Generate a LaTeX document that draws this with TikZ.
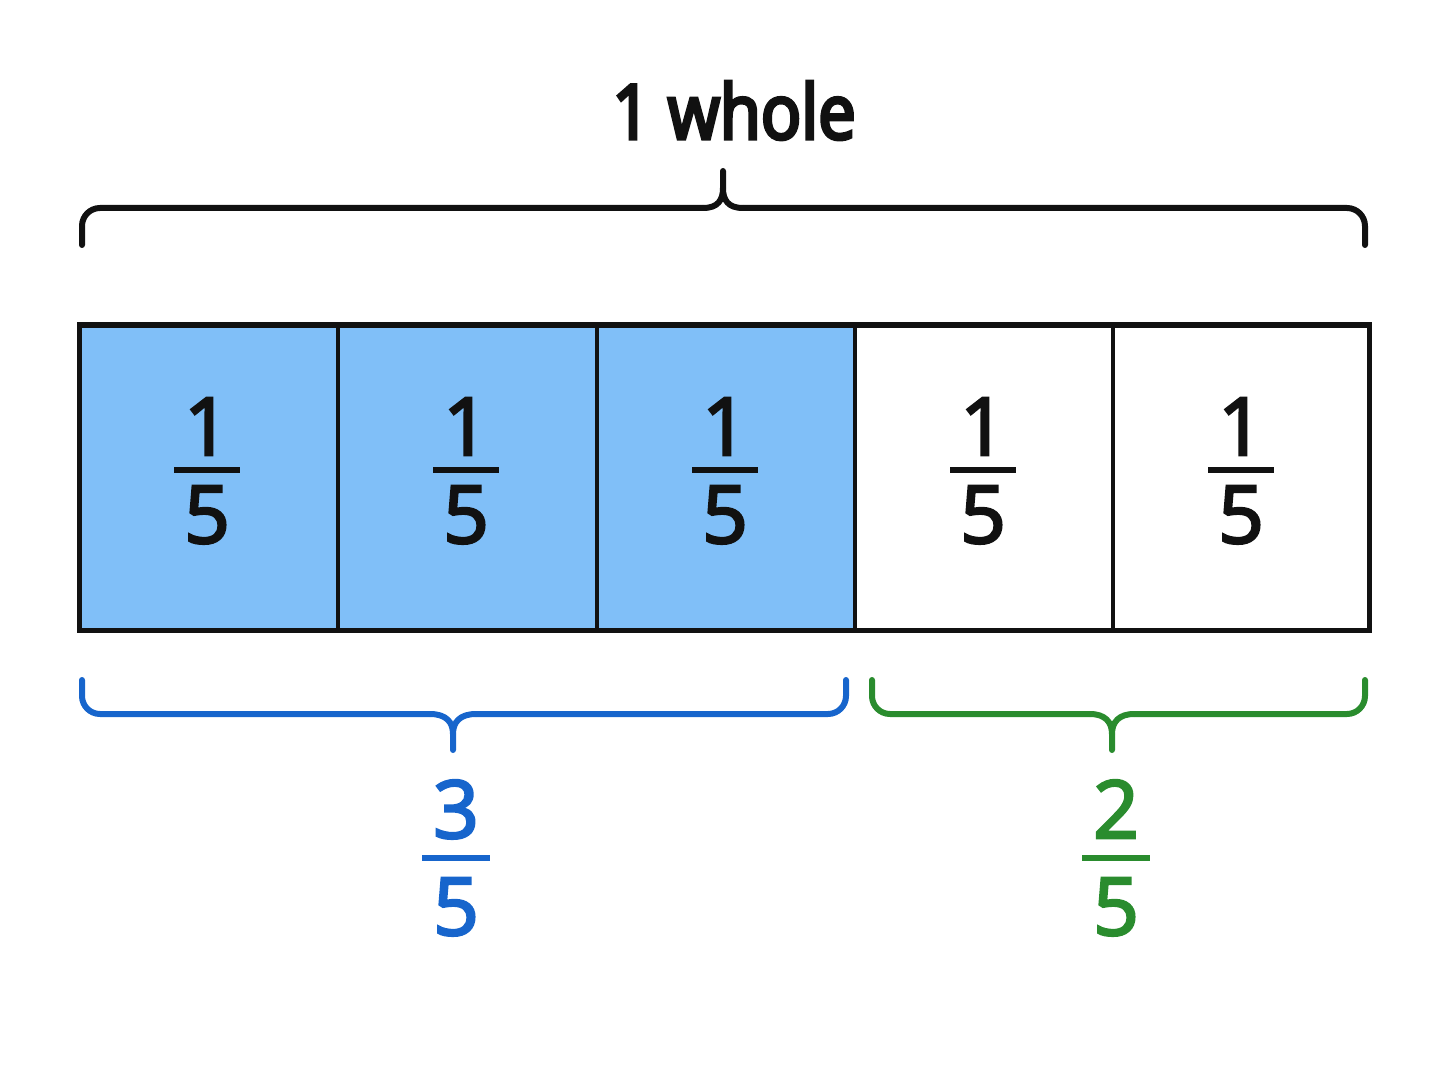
\documentclass[tikz,border=0pt]{standalone}
\usepackage{fontspec}
\setmainfont{Open Sans}
\newfontfamily\semifont{Open Sans}[FakeBold=3.2]
\newfontfamily\titlefont{Open Sans}[FakeBold=4.5,FakeStretch=0.88]
\definecolor{cellfill}{HTML}{80BFF8}
\definecolor{bblue}{HTML}{1765CC}
\definecolor{bgreen}{HTML}{2A8C2E}
\definecolor{ink}{HTML}{111111}
\begin{document}
\begin{tikzpicture}[x=0.5pt,y=-0.5pt,
  digit/.style={anchor=base,inner sep=0pt,font=\semifont\fontsize{40}{48}\selectfont},
  bracepath/.style={line width=3pt,line cap=round,line join=round},
  fracbar/.style={line width=3pt},
  cellline/.style={draw=ink,line width=2pt}]
\useasboundingbox (0,0) rectangle (1448,1086);
% title
\node[anchor=base,inner sep=0pt,font=\titlefont\fontsize{38}{46}\selectfont,text=ink] (title) at (734,139) {1 whole};
% top brace
\draw[bracepath,ink,rounded corners=9pt] (82,245) -- (82,208) -- (703,208);
\draw[bracepath,ink] (703,208) .. controls (718,208) and (723,200) .. (723,188) -- (723,171);
\draw[bracepath,ink,rounded corners=9pt] (1365,245) -- (1365,208) -- (743,208);
\draw[bracepath,ink] (743,208) .. controls (728,208) and (723,200) .. (723,188);
% cells
\fill[cellfill] (79,325) rectangle (855,630);
\foreach \xa in {338,597,855,1113}{\draw[cellline] (\xa,325) -- (\xa,630);}
\draw[ink,line width=2.5pt] (79,325) rectangle (1369,630);
% unit fractions
\foreach \cx/\nm in {207/a,466/b,725/c,983/d,1241/e}{
  \node[digit,text=ink] (n\nm) at (\cx,455) {1};
  \node[digit,text=ink] (d\nm) at (\cx,543) {5};
  \draw[fracbar,ink] (\cx-33,470) -- (\cx+33,470);
}
% blue brace
\draw[bracepath,bblue,rounded corners=9pt] (82,680) -- (82,714) -- (430,714);
\draw[bracepath,bblue] (430,714) .. controls (446,714) and (453,722) .. (453,734) -- (453,750);
\draw[bracepath,bblue,rounded corners=9pt] (846,680) -- (846,714) -- (476,714);
\draw[bracepath,bblue] (476,714) .. controls (460,714) and (453,722) .. (453,734);
% green brace
\draw[bracepath,bgreen,rounded corners=9pt] (872,680) -- (872,714) -- (1090,714);
\draw[bracepath,bgreen] (1090,714) .. controls (1105,714) and (1112,722) .. (1112,734) -- (1112,750);
\draw[bracepath,bgreen,rounded corners=9pt] (1365,680) -- (1365,714) -- (1134,714);
\draw[bracepath,bgreen] (1134,714) .. controls (1119,714) and (1112,722) .. (1112,734);
% 3/5
\node[digit,text=bblue] (three) at (456,838) {3};
\node[digit,text=bblue] (fiveb) at (456,935) {5};
\draw[fracbar,bblue] (422,858) -- (490,858);
% 2/5
\node[digit,text=bgreen] (two) at (1116,838) {2};
\node[digit,text=bgreen] (fiveg) at (1116,935) {5};
\draw[fracbar,bgreen] (1082,858) -- (1150,858);
\end{tikzpicture}
\end{document}
